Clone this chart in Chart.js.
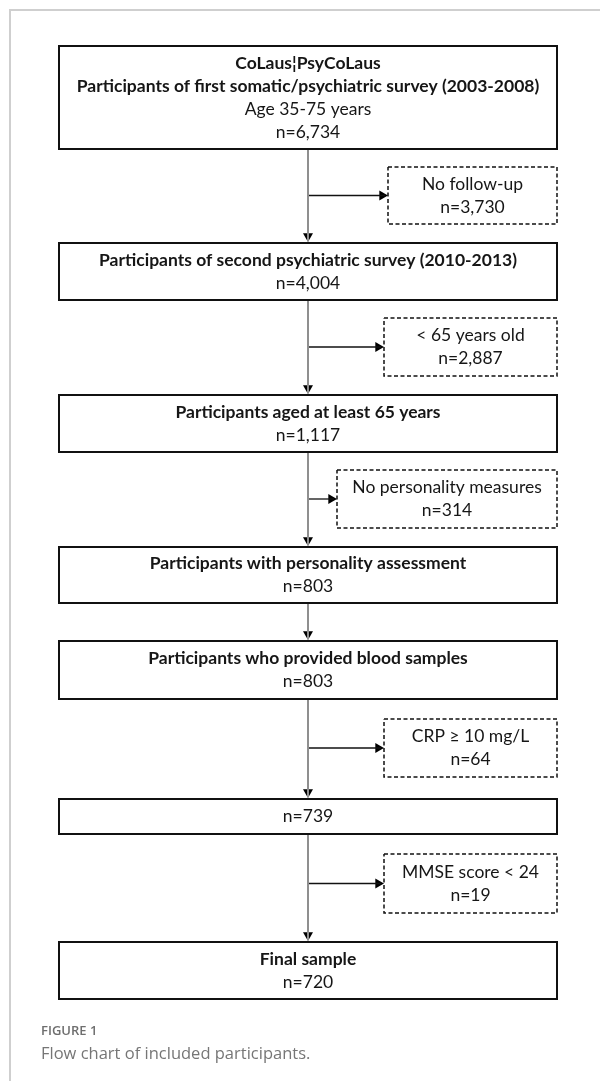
<!DOCTYPE html>
<html>
<head>
<meta charset="utf-8">
<script src="https://cdn.jsdelivr.net/npm/chart.js@4.4.1/dist/chart.umd.min.js"></script>
<style>
  html, body { margin: 0; padding: 0; background: #fff; }
  #pagina { position: relative; width: 600px; height: 1081px; overflow: hidden; }
  #moldura { position: absolute; left: 9px; top: 9px; right: -5px; bottom: -5px;
             border-left: 2px solid #cfcfcf; border-top: 2px solid #cfcfcf; }
  #caixaGrafico { position: absolute; left: 0; top: 0; width: 600px; height: 1081px; }
  .legenda { position: absolute; left: 41px; font-family: "Open Sans", sans-serif; color: #6e6e6e; }
  #figNum { top: 1021px; font-size: 13px; font-weight: 600; }
  #figTxt { top: 1041px; font-size: 16.5px; font-weight: 400; color: #767676; }
</style>
</head>
<body>
<div id="pagina">
  <div id="moldura"></div>
  <div id="caixaGrafico"><canvas id="fluxo"></canvas></div>
  <div class="legenda" id="figNum">FIGURE 1</div>
  <div class="legenda" id="figTxt">Flow chart of included participants.</div>
</div>
<script>
// etapas principais do fluxo
const etapasTitulo = [
  ['CoLaus\u00a6PsyCoLaus', 'Participants of first somatic/psychiatric survey (2003-2008)'],
  ['Participants of second psychiatric survey (2010-2013)'],
  ['Participants aged at least 65 years'],
  ['Participants with personality assessment'],
  ['Participants who provided blood samples'],
  [],
  ['Final sample']
];
const etapasSub = ['Age 35-75 years', '', '', '', '', '', ''];
const etapasN = [6734, 4004, 1117, 803, 803, 739, 720];

// exclusões (caixas tracejadas)
const exclusoes = ['No follow-up', '< 65 years old', 'No personality measures', 'CRP \u2265 10 mg/L', 'MMSE score < 24'];
const exclusoesN = [3730, 2887, 314, 64, 19];
const exclusaoApos = [0, 1, 2, 4, 5];

// layout (unidades da escala)
const etapaEsq = 59, etapaDir = 557, eixoCentro = 308;
const etapaTopo = [46, 243, 395, 547, 641, 799, 942];
const etapaBase = [149, 300, 452, 603, 699, 834, 999];
const exclEsq = [388, 384, 337, 384, 384];
const exclTopo = [167, 318, 470, 719, 854];
const exclBase = [224, 376, 528, 777, 913];
const raioSeta = 5.8;
const entreLinhas = 23;

const fmt = n => 'n=' + n.toLocaleString('en-US');

function retangulo(x0, x1, y0, y1) {
  return [{x: x0, y: y0}, {x: x1, y: y0}, {x: x1, y: y1}, {x: x0, y: y1}, {x: x0, y: y0}];
}

const datasets = [];

// caixas principais
etapasN.forEach((n, i) => {
  datasets.push({
    data: retangulo(etapaEsq, etapaDir, etapaTopo[i], etapaBase[i]),
    borderColor: '#111', borderWidth: 2, showLine: true, pointRadius: 0,
    borderJoinStyle: 'miter', borderCapStyle: 'square', fill: false
  });
});

// caixas de exclusão
exclusoesN.forEach((n, i) => {
  datasets.push({
    data: retangulo(exclEsq[i], etapaDir, exclTopo[i], exclBase[i]),
    borderColor: '#111', borderWidth: 1.5, borderDash: [4, 2.5], showLine: true, pointRadius: 0,
    borderJoinStyle: 'miter', fill: false
  });
});

// ligações verticais
for (let i = 0; i < etapasN.length - 1; i++) {
  datasets.push({
    data: [{x: eixoCentro, y: etapaBase[i] + 1}, {x: eixoCentro, y: etapaTopo[i + 1] - 2}],
    borderColor: '#8f8f8f', borderWidth: 2, showLine: true, pointRadius: 0
  });
  datasets.push({
    data: [{x: eixoCentro, y: etapaTopo[i + 1] - 1 - raioSeta}],
    pointStyle: 'triangle', rotation: 180, pointRadius: raioSeta,
    backgroundColor: '#000', borderColor: '#000', borderWidth: 0, showLine: false
  });
}

// setas horizontais para exclusões
exclusoesN.forEach((n, i) => {
  const y = (exclTopo[i] + exclBase[i]) / 2;
  datasets.push({
    data: [{x: eixoCentro + 1, y: y}, {x: exclEsq[i] - 3, y: y}],
    borderColor: '#111', borderWidth: 1.3, showLine: true, pointRadius: 0
  });
  datasets.push({
    data: [{x: exclEsq[i] - raioSeta, y: y}],
    pointStyle: 'triangle', rotation: 90, pointRadius: raioSeta,
    backgroundColor: '#000', borderColor: '#000', borderWidth: 0, showLine: false
  });
});

const fonte = '"Lato", "Open Sans", sans-serif';

const textos = {
  id: 'textos',
  afterDatasetsDraw(chart) {
    const ctx = chart.ctx;
    const sx = chart.scales.x, sy = chart.scales.y;
    ctx.save();
    ctx.fillStyle = '#161616';
    ctx.textAlign = 'center';
    ctx.textBaseline = 'middle';

    function bloco(linhas, xc, y0, y1) {
      const meio = (sy.getPixelForValue(y0) + sy.getPixelForValue(y1)) / 2;
      const inicio = meio - (linhas.length - 1) * entreLinhas / 2;
      linhas.forEach((l, k) => {
        ctx.font = (l.negrito ? 'bold ' : '') + '17.5px ' + fonte;
        ctx.fillText(l.t, xc, inicio + k * entreLinhas);
      });
    }

    etapasN.forEach((n, i) => {
      const linhas = etapasTitulo[i].map(t => ({t: t, negrito: true}));
      if (etapasSub[i]) linhas.push({t: etapasSub[i], negrito: false});
      linhas.push({t: fmt(n), negrito: false});
      bloco(linhas, sx.getPixelForValue((etapaEsq + etapaDir) / 2), etapaTopo[i], etapaBase[i]);
    });

    exclusoes.forEach((e, i) => {
      const linhas = [{t: e, negrito: false}, {t: fmt(exclusoesN[i]), negrito: false}];
      bloco(linhas, sx.getPixelForValue((exclEsq[i] + etapaDir) / 2), exclTopo[i], exclBase[i]);
    });
    ctx.restore();
  }
};

const grafico = new Chart(document.getElementById('fluxo').getContext('2d'), {
  type: 'scatter',
  data: { datasets: datasets },
  options: {
    responsive: true,
    maintainAspectRatio: false,
    animation: false,
    events: [],
    layout: { padding: 0, autoPadding: false },
    plugins: { legend: { display: false }, tooltip: { enabled: false }, title: { display: false } },
    scales: {
      x: { type: 'linear', min: 0, max: 600, display: false },
      y: { type: 'linear', min: 0, max: 1081, reverse: true, display: false }
    }
  },
  plugins: [textos]
});
</script>
</body>
</html>
